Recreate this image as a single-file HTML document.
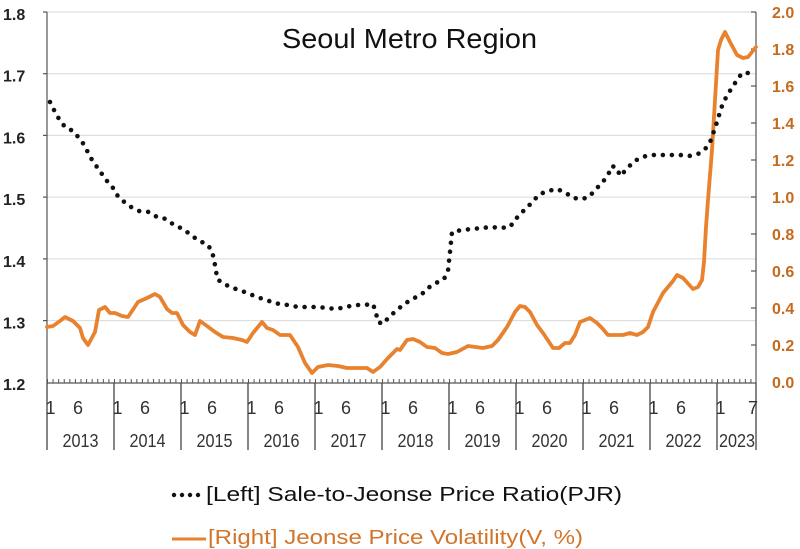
<!DOCTYPE html>
<html><head><meta charset="utf-8"><style>
html,body{margin:0;padding:0;background:#fff;}
svg{display:block;}
text{font-family:"Liberation Sans","Noto Sans CJK KR",sans-serif;}
</style></head><body>
<svg width="800" height="549" viewBox="0 0 800 549" xmlns="http://www.w3.org/2000/svg">
<rect width="800" height="549" fill="#fff"/>
<!-- gridlines -->
<g stroke="#d9d9d9" stroke-width="1">
<line x1="47" y1="12" x2="756" y2="12"/>
<line x1="47" y1="73.7" x2="756" y2="73.7"/>
<line x1="47" y1="135.4" x2="756" y2="135.4"/>
<line x1="47" y1="197.1" x2="756" y2="197.1"/>
<line x1="47" y1="258.9" x2="756" y2="258.9"/>
<line x1="47" y1="320.6" x2="756" y2="320.6"/>
</g>
<!-- axes -->
<g stroke="#555" stroke-width="1.2">
<line x1="47" y1="12" x2="47" y2="383"/>
<line x1="756" y1="12" x2="756" y2="383"/>
<line x1="47" y1="383" x2="756" y2="383"/>
<line x1="43" y1="12" x2="47" y2="12"/>
<line x1="43" y1="73.7" x2="47" y2="73.7"/>
<line x1="43" y1="135.4" x2="47" y2="135.4"/>
<line x1="43" y1="197.1" x2="47" y2="197.1"/>
<line x1="43" y1="258.9" x2="47" y2="258.9"/>
<line x1="43" y1="320.6" x2="47" y2="320.6"/>
<line x1="751" y1="12" x2="756" y2="12"/>
<line x1="751" y1="49" x2="756" y2="49"/>
<line x1="751" y1="86" x2="756" y2="86"/>
<line x1="751" y1="123" x2="756" y2="123"/>
<line x1="751" y1="160" x2="756" y2="160"/>
<line x1="751" y1="197" x2="756" y2="197"/>
<line x1="751" y1="234" x2="756" y2="234"/>
<line x1="751" y1="271" x2="756" y2="271"/>
<line x1="751" y1="308" x2="756" y2="308"/>
<line x1="751" y1="345" x2="756" y2="345"/>
</g>
<!-- minor month ticks -->
<line x1="47" y1="381" x2="756" y2="381" stroke="#555" stroke-width="4" stroke-dasharray="1 4.583"/>
<!-- year separators -->
<g stroke="#444" stroke-width="1.3">
<line x1="47" y1="383" x2="47" y2="450"/>
<line x1="114" y1="383" x2="114" y2="450"/>
<line x1="181" y1="383" x2="181" y2="450"/>
<line x1="248" y1="383" x2="248" y2="450"/>
<line x1="315" y1="383" x2="315" y2="450"/>
<line x1="382" y1="383" x2="382" y2="450"/>
<line x1="449" y1="383" x2="449" y2="450"/>
<line x1="516" y1="383" x2="516" y2="450"/>
<line x1="583" y1="383" x2="583" y2="450"/>
<line x1="650" y1="383" x2="650" y2="450"/>
<line x1="717" y1="383" x2="717" y2="450"/>
<line x1="756" y1="383" x2="756" y2="450"/>
</g>
<!-- left labels -->
<g font-size="16" font-weight="bold" fill="#222">
<text x="3" y="20">1.8</text>
<text x="3" y="81.7">1.7</text>
<text x="3" y="143.4">1.6</text>
<text x="3" y="205.1">1.5</text>
<text x="3" y="266.9">1.4</text>
<text x="3" y="328.6">1.3</text>
<text x="3" y="390">1.2</text>
</g>
<!-- right labels -->
<g font-size="16" font-weight="bold" fill="#C46A1E">
<text x="772" y="18">2.0</text>
<text x="772" y="55">1.8</text>
<text x="772" y="92">1.6</text>
<text x="772" y="129">1.4</text>
<text x="772" y="166">1.2</text>
<text x="772" y="203">1.0</text>
<text x="772" y="240">0.8</text>
<text x="772" y="277">0.6</text>
<text x="772" y="314">0.4</text>
<text x="772" y="351">0.2</text>
<text x="772" y="388">0.0</text>
</g>
<!-- month labels -->
<g font-size="18" fill="#333" text-anchor="middle">
<text x="50.5" y="414">1</text><text x="78" y="414">6</text>
<text x="117.5" y="414">1</text><text x="145" y="414">6</text>
<text x="184.5" y="414">1</text><text x="212" y="414">6</text>
<text x="251.5" y="414">1</text><text x="279" y="414">6</text>
<text x="318.5" y="414">1</text><text x="346" y="414">6</text>
<text x="385.5" y="414">1</text><text x="413" y="414">6</text>
<text x="452.5" y="414">1</text><text x="480" y="414">6</text>
<text x="519.5" y="414">1</text><text x="547" y="414">6</text>
<text x="586.5" y="414">1</text><text x="614" y="414">6</text>
<text x="653.5" y="414">1</text><text x="681" y="414">6</text>
<text x="720.5" y="414">1</text><text x="753" y="414">7</text>
</g>
<!-- year labels -->
<g font-size="18" fill="#333" text-anchor="middle">
<text x="80.5" y="447" textLength="36" lengthAdjust="spacingAndGlyphs">2013</text>
<text x="147.5" y="447" textLength="36" lengthAdjust="spacingAndGlyphs">2014</text>
<text x="214.5" y="447" textLength="36" lengthAdjust="spacingAndGlyphs">2015</text>
<text x="281.5" y="447" textLength="36" lengthAdjust="spacingAndGlyphs">2016</text>
<text x="348.5" y="447" textLength="36" lengthAdjust="spacingAndGlyphs">2017</text>
<text x="415.5" y="447" textLength="36" lengthAdjust="spacingAndGlyphs">2018</text>
<text x="482.5" y="447" textLength="36" lengthAdjust="spacingAndGlyphs">2019</text>
<text x="549.5" y="447" textLength="36" lengthAdjust="spacingAndGlyphs">2020</text>
<text x="616.5" y="447" textLength="36" lengthAdjust="spacingAndGlyphs">2021</text>
<text x="683.5" y="447" textLength="36" lengthAdjust="spacingAndGlyphs">2022</text>
<text x="737" y="447" textLength="36" lengthAdjust="spacingAndGlyphs">2023</text>
</g>
<!-- title -->
<text x="282" y="48" font-size="28" fill="#111" textLength="255" lengthAdjust="spacingAndGlyphs">Seoul Metro Region</text>
<!-- orange series -->
<polyline fill="none" stroke="#E8822E" stroke-width="3.8" stroke-linejoin="round" stroke-linecap="round"
points="47,327 53,326 60,321 65,317 73,321 80,328 83,338 88,345 95,332 99,310 105,307 110,313 115,313 122,316 128,317 138,302 147,298 155,294 160,297 167,309 172,313 177,313 183,325 190,332 195,335 200,321 207,326 215,332 223,337 233,338 242,340 247,342 253,333 262,322 267,328 273,330 280,335 290,335 298,347 305,363 312,373 318,367 328,365 338,366 347,368 357,368 367,368 373,372 380,367 388,358 397,349 400,350 407,340 413,339 420,342 427,347 435,348 442,353 448,354 457,352 468,346 483,348 492,346 498,340 507,327 515,312 520,306 525,307 530,312 537,325 543,333 553,348 559,348 565,343 570,343 575,335 580,322 590,318 597,323 602,328 608,335 617,335 623,335 630,333 637,335 643,332 648,327 653,312 663,293 673,281 677,275 683,278 693,289 698,287 702,280 704,262 706,227 708,200 712,150 715,100 718,50 721,40 725,32 730,42 737,55 743,58 748,57 756,47"/>
<!-- black dotted series -->
<polyline fill="none" stroke="#111" stroke-width="4.6" stroke-linecap="round" stroke-linejoin="round" stroke-dasharray="0 9"
points="50,102 54,110 59,119 65,127 73,131 79,138 85,146 89,155 94,163 100,171 105,179 112,186 116,194 123,201 131,207 139,211 149,212 157,217 166,219 174,225 183,229 191,235 199,241 207,244 212,251 214,260 216,270 217,279 224,284 233,288 242,291 252,295 260,298 269,301 279,304 288,305 298,307 307,307 317,307 327,308 336,309 346,307 355,305 364,305 373,304 376,313 378,322 383,324 389,317 397,310 403,305 412,299 421,295 428,288 436,283 444,279 448,271 449,261 450,252 452,232 462,230 472,229 482,228 491,227 500,228 510,227 515,220 521,213 527,208 532,202 540,194 548,191 557,189 566,193 573,198 582,199 589,197 595,190 602,183 608,175 612,166 617,168 620,176 627,169 633,162 642,157 651,155 661,155 670,155 680,155 689,156 698,154 706,148 711,140 714,131 717,122 720,112 723,103 728,94 733,86 742,73 752,73"/>
<!-- legend -->
<g fill="#111">
<circle cx="174" cy="495" r="2.2"/><circle cx="182" cy="495" r="2.2"/><circle cx="190" cy="495" r="2.2"/><circle cx="198" cy="495" r="2.2"/>
</g>
<text x="206" y="501" font-size="20.5" fill="#111" textLength="416" lengthAdjust="spacingAndGlyphs">[Left] Sale-to-Jeonse Price Ratio(PJR)</text>
<line x1="172" y1="539" x2="206" y2="539" stroke="#E8822E" stroke-width="3"/>
<text x="208" y="544" font-size="20.5" fill="#D2742A" textLength="375" lengthAdjust="spacingAndGlyphs">[Right] Jeonse Price Volatility(V, %)</text>
</svg>
</body></html>
